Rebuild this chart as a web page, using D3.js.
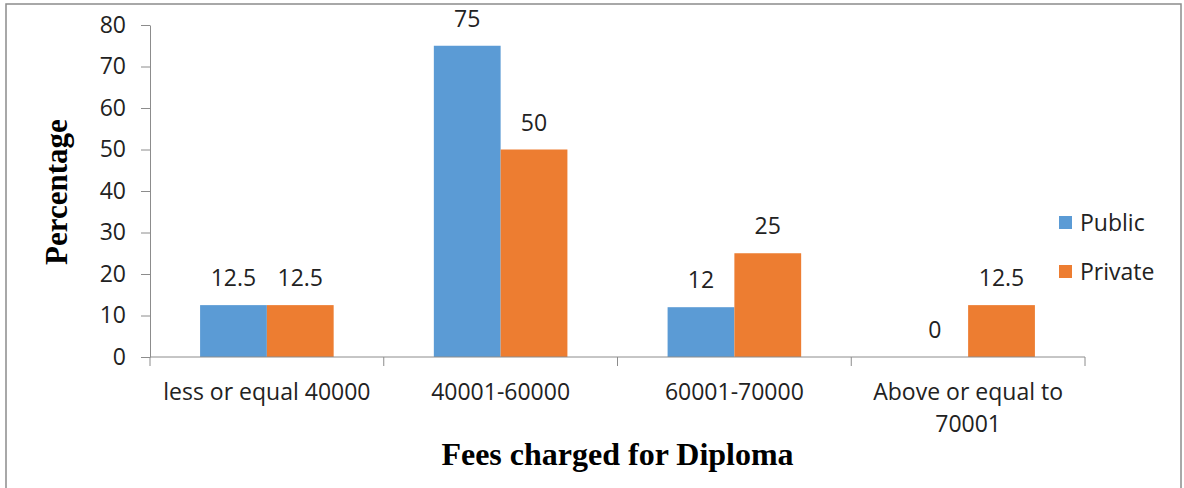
<!DOCTYPE html>
<html>
<head>
<meta charset="utf-8">
<script src="https://cdn.jsdelivr.net/npm/d3@7"></script>
<style>
  body { margin: 0; background: #fff; }
  svg { display: block; }
</style>
</head>
<body>
<div id="chart"></div>
<script>
// data
const categories = ['less or equal 40000', '40001-60000', '60001-70000', 'Above or equal to 70001'];
const seriesNames = ['Public', 'Private'];
const publicValues = [12.5, 75, 12, 0];
const privateValues = [12.5, 50, 25, 12.5];
const yTicks = [0, 10, 20, 30, 40, 50, 60, 70, 80];

const colors = { Public: '#5b9bd5', Private: '#ed7d31' };

const width = 1184, height = 488;
const plot = { left: 150, right: 1085, top: 25, bottom: 357 };
const labelFont = '"Open Sans", Lato, sans-serif';
const labelSize = 23;
const titleFont = '"Liberation Serif", "Times New Roman", serif';

const rows = categories.map((c, i) => ({
  cat: c,
  values: [
    { key: 'Public', v: publicValues[i] },
    { key: 'Private', v: privateValues[i] }
  ]
}));

const svg = d3.select('#chart').append('svg')
  .attr('width', width)
  .attr('height', height);

svg.append('rect')
  .attr('x', 6).attr('y', 4)
  .attr('width', 1175).attr('height', 492)
  .attr('fill', '#fff')
  .attr('stroke', '#8c8c8c')
  .attr('stroke-width', 1.5);

const x0 = d3.scaleBand()
  .domain(categories)
  .range([plot.left, plot.right])
  .padding(0);

const x1 = d3.scaleBand()
  .domain(seriesNames)
  .range([0, x0.bandwidth()])
  .paddingInner(0)
  .paddingOuter(0.75);

const y = d3.scaleLinear()
  .domain([0, 80])
  .range([plot.bottom, plot.top]);

// y axis
const yAxis = svg.append('g')
  .attr('transform', `translate(${plot.left},0)`)
  .call(d3.axisLeft(y).tickValues(yTicks).tickSize(9).tickSizeOuter(0).tickPadding(15));
yAxis.select('.domain').attr('stroke', '#8c8c8c');
yAxis.selectAll('.tick line').attr('stroke', '#8c8c8c');
yAxis.selectAll('.tick text')
  .attr('font-family', labelFont)
  .attr('font-size', labelSize)
  .attr('fill', '#222');

// bars
const groups = svg.append('g').selectAll('g')
  .data(rows)
  .join('g')
  .attr('transform', d => `translate(${x0(d.cat)},0)`);

groups.selectAll('rect')
  .data(d => d.values)
  .join('rect')
  .attr('x', d => x1(d.key))
  .attr('y', d => y(d.v))
  .attr('width', x1.bandwidth())
  .attr('height', d => y(0) - y(d.v))
  .attr('fill', d => colors[d.key]);

groups.selectAll('text')
  .data(d => d.values)
  .join('text')
  .attr('x', d => x1(d.key) + x1.bandwidth() / 2)
  .attr('y', d => y(d.v) - 19)
  .attr('text-anchor', 'middle')
  .attr('font-family', labelFont)
  .attr('font-size', labelSize)
  .attr('fill', '#222')
  .text(d => d.v);

// x axis
const xAxis = svg.append('g')
  .attr('transform', `translate(0,${plot.bottom})`);
xAxis.append('line')
  .attr('x1', plot.left).attr('x2', plot.right)
  .attr('stroke', '#8c8c8c');
const bounds = categories.map(c => x0(c)).concat([x0(categories[categories.length - 1]) + x0.bandwidth()]);
xAxis.selectAll('.xt')
  .data(bounds)
  .join('line')
  .attr('class', 'xt')
  .attr('x1', d => d).attr('x2', d => d)
  .attr('y1', 0).attr('y2', 9)
  .attr('stroke', '#8c8c8c');

const wrapLines = { 'Above or equal to 70001': ['Above or equal to', '70001'] };
xAxis.selectAll('.xl')
  .data(categories)
  .join('text')
  .attr('class', 'xl')
  .attr('text-anchor', 'middle')
  .attr('font-family', labelFont)
  .attr('font-size', labelSize)
  .attr('fill', '#222')
  .each(function (d) {
    const lines = wrapLines[d] || [d];
    d3.select(this).selectAll('tspan')
      .data(lines)
      .join('tspan')
      .attr('x', x0(d) + x0.bandwidth() / 2)
      .attr('y', (l, i) => 43 + i * 32)
      .text(l => l);
  });

// axis titles
svg.append('text')
  .attr('x', (plot.left + plot.right) / 2)
  .attr('y', 465)
  .attr('text-anchor', 'middle')
  .attr('font-family', titleFont)
  .attr('font-weight', 'bold')
  .attr('font-size', 32)
  .attr('fill', '#000')
  .text('Fees charged for Diploma');

svg.append('text')
  .attr('transform', 'translate(67,192) rotate(-90)')
  .attr('text-anchor', 'middle')
  .attr('font-family', titleFont)
  .attr('font-weight', 'bold')
  .attr('font-size', 31)
  .attr('fill', '#000')
  .text('Percentage');

// legend
const legend = svg.append('g').attr('transform', 'translate(1059,216)');
const li = legend.selectAll('g')
  .data(seriesNames)
  .join('g')
  .attr('transform', (d, i) => `translate(0,${i * 49})`);
li.append('rect')
  .attr('width', 13).attr('height', 13)
  .attr('fill', d => colors[d]);
li.append('text')
  .attr('x', 21).attr('y', 15)
  .attr('font-family', labelFont)
  .attr('font-size', labelSize)
  .attr('fill', '#222')
  .text(d => d);
</script>
</body>
</html>
